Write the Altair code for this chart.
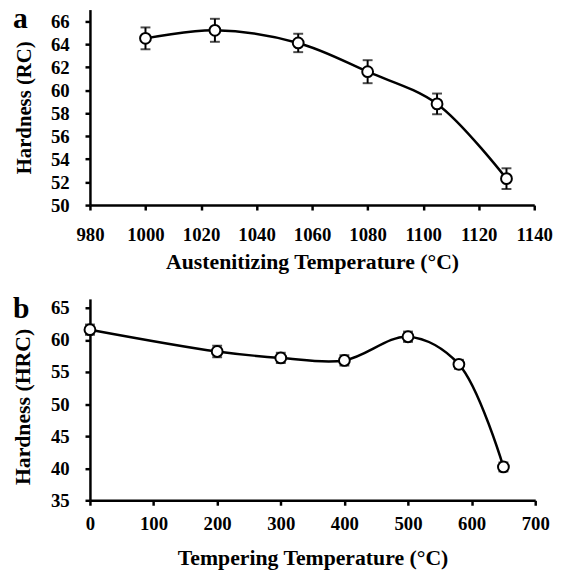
import altair as alt
import pandas as pd

# Panel a
aus_temp = [1000, 1025, 1055, 1080, 1105, 1130]
aus_hard = [64.5, 65.2, 64.1, 61.6, 58.8, 52.3]
aus_err = [0.95, 1.0, 0.8, 1.0, 0.9, 0.9]

# Panel b
temp_temp = [0, 200, 300, 400, 500, 580, 650]
temp_hard = [61.6, 58.2, 57.2, 56.8, 60.5, 56.2, 40.2]
temp_err = [0.8, 0.9, 0.8, 0.8, 0.8, 0.7, 0.7]

FONT = "Liberation Serif"

dfa = pd.DataFrame({"x": aus_temp, "y": aus_hard, "e": aus_err})
dfa["lo"] = dfa["y"] - dfa["e"]
dfa["hi"] = dfa["y"] + dfa["e"]
dfb = pd.DataFrame({"x": temp_temp, "y": temp_hard, "e": temp_err})
dfb["lo"] = dfb["y"] - dfb["e"]
dfb["hi"] = dfb["y"] + dfb["e"]


def axis_common(title, values, lpad, tpad, tsize, **kw):
    return alt.Axis(
        title=title, values=values, grid=False, domainColor="black", domainWidth=2.5,
        tickColor="black", tickWidth=2.5, tickSize=5, labelFont=FONT, labelFontSize=19,
        labelFontWeight="bold", labelColor="black", titleFont=FONT, titleFontSize=tsize,
        titleFontWeight="bold", titleColor="black", labelPadding=lpad, titlePadding=tpad,
        format="d", labelOverlap=False, labelFlush=False, **kw
    )


def panel(df, xdom, xvals, ydom, yvals, xtitle, ytitle, letter, ybase, w, h, xlp, xtp, ytsize, ykw):
    xs = alt.Scale(domain=xdom, nice=False, zero=False)
    ys = alt.Scale(domain=ydom, nice=False, zero=False)
    xax = axis_common(xtitle, xvals, xlp, xtp, 22)
    yax = axis_common(ytitle, yvals, 16, 16, ytsize, **ykw)
    x = alt.X("x:Q", scale=xs, axis=xax)
    y = alt.Y("y:Q", scale=ys, axis=yax)
    ylo = alt.Y("lo:Q", scale=ys, axis=yax)
    yhi = alt.Y("hi:Q", scale=ys, axis=yax)
    base = alt.Chart(df)
    line = base.mark_line(color="black", strokeWidth=2.5, interpolate="catmull-rom").encode(x=x, y=y)
    rule = base.mark_rule(color="black", strokeWidth=2).encode(x=x, y=ylo, y2="hi:Q")
    cap_lo = base.mark_tick(color="black", thickness=2, size=10, orient="horizontal").encode(x=x, y=ylo)
    cap_hi = base.mark_tick(color="black", thickness=2, size=10, orient="horizontal").encode(x=x, y=yhi)
    pts = base.mark_point(shape="circle", filled=True, fill="white", stroke="black",
                          strokeWidth=2, size=120, opacity=1).encode(x=x, y=y)
    lab = alt.Chart(pd.DataFrame({"t": [letter]})).mark_text(
        font=FONT, fontSize=30, fontWeight="bold", color="black", align="left", baseline="alphabetic"
    ).encode(text="t:N", x=alt.value(-78), y=alt.value(ybase))
    return alt.layer(line, rule, cap_lo, cap_hi, pts, lab).properties(width=w, height=h)


pa = panel(dfa, [980, 1140], list(range(980, 1141, 20)), [50, 67], list(range(50, 67, 2)),
           "Austenitizing Temperature (°C)", "Hardness (RC)", "a", 19, 450, 198, 16, 7, 21, {})
pb = panel(dfb, [0, 700], list(range(0, 701, 100)), [35, 66.4], list(range(35, 66, 5)),
           "Tempering Temperature (°C)", "Hardness (HRC)", "b", 19, 451, 204, 10, 14, 22,
           {"titleY": 109})

chart = alt.vconcat(pa, pb, spacing=22).properties(
    padding={"left": 4, "top": -7, "right": 0, "bottom": 0}
).configure_view(stroke=None).configure_axis(labelOverlap=False, labelFlush=False)

chart.save("out.html", embed_options={"renderer": "svg", "actions": False})
